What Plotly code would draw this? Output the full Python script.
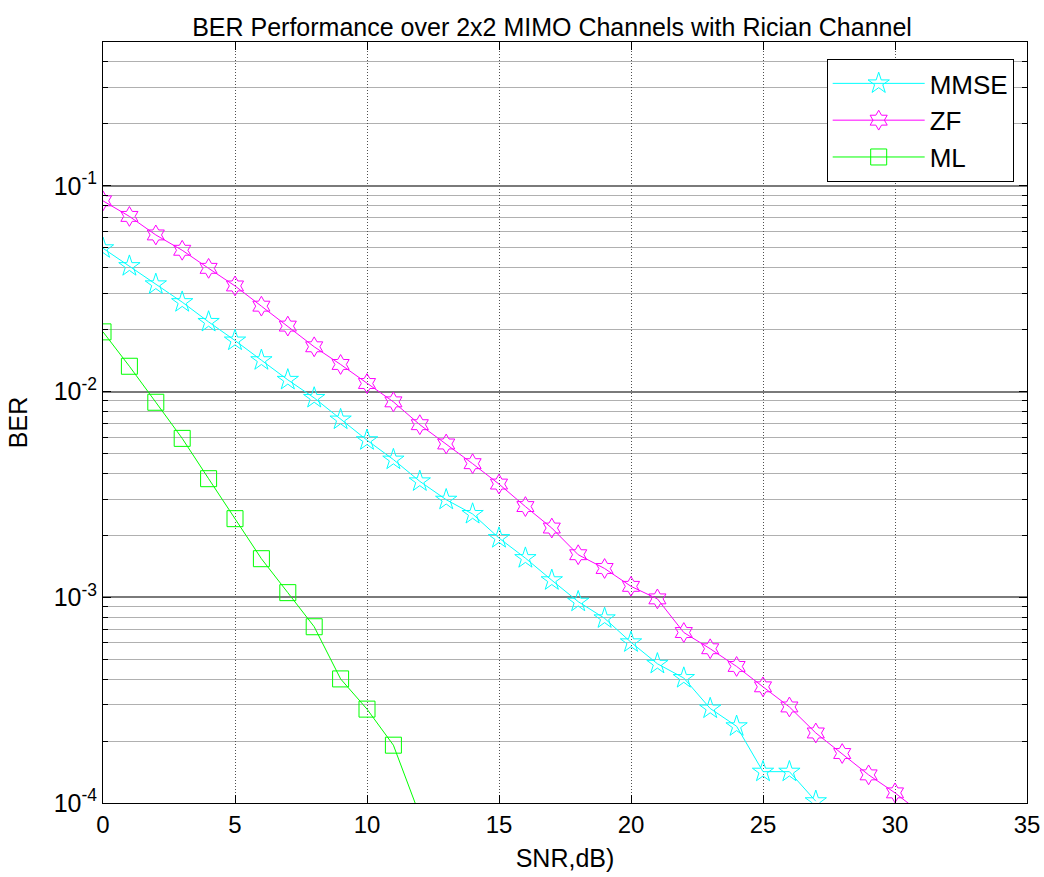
import math
import plotly.graph_objects as go

# ---- data ----
snr_mmse = list(range(0, 28))
ber_mmse = [0.0497, 0.0407, 0.0332, 0.0272, 0.0218, 0.0177, 0.0142, 0.0114,
            0.00931, 0.00731, 0.00580, 0.00467, 0.00366, 0.00298, 0.00254,
            0.00194, 0.00155, 0.00121, 0.000952, 0.000790, 0.000604,
            0.000475, 0.000405, 0.000288, 0.000236, 0.000142, 0.000142,
            0.000102]

snr_zf = list(range(0, 32))
ber_zf = [0.0845, 0.0710, 0.0577, 0.0486, 0.0397, 0.0326, 0.0260, 0.0208,
          0.0165, 0.01354, 0.01094, 0.00891, 0.00690, 0.00556, 0.00446,
          0.00355, 0.00276, 0.00217, 0.00161, 0.00138, 0.00113, 0.000982,
          0.000674, 0.000562, 0.000461, 0.000367, 0.000293, 0.000219,
          0.000174, 0.000137, 0.000112, 0.000089]

snr_ml = list(range(0, 13))
ber_ml = [0.0195, 0.01327, 0.00887, 0.00592, 0.00377, 0.00241, 0.00154,
          0.001053, 0.000719, 0.000401, 0.000286, 0.000191, 0.000087]

x_ticks = [0, 5, 10, 15, 20, 25, 30, 35]
y_major = [1e-4, 1e-3, 1e-2, 1e-1]
y_major_text = ["10<sup>-4</sup>", "10<sup>-3</sup>", "10<sup>-2</sup>", "10<sup>-1</sup>"]
y_minor = [m * d for d in (1e-4, 1e-3, 1e-2, 1e-1) for m in range(2, 10)
           if m * d <= 0.5]

FONT = "Liberation Sans, Arial, Helvetica, sans-serif"
FS = 24

fig = go.Figure()
fig.add_trace(go.Scatter(
    x=snr_mmse, y=ber_mmse, name="MMSE", mode="lines+markers",
    line=dict(color="#00FFFF", width=1),
    marker=dict(symbol="star-open", size=16, color="#00FFFF",
                line=dict(width=1, color="#00FFFF"))))
fig.add_trace(go.Scatter(
    x=snr_zf, y=ber_zf, name="ZF", mode="lines+markers",
    line=dict(color="#FF00FF", width=1),
    marker=dict(symbol="hexagram-open", size=15, color="#FF00FF",
                line=dict(width=1, color="#FF00FF"))))
fig.add_trace(go.Scatter(
    x=snr_ml, y=ber_ml, name="ML", mode="lines+markers",
    line=dict(color="#00FF00", width=1),
    marker=dict(symbol="square-open", size=16, color="#00FF00",
                line=dict(width=1, color="#00FF00"))))

fig.update_layout(
    width=1044, height=877,
    margin=dict(l=103, r=17, t=42, b=74, autoexpand=False),
    paper_bgcolor="white", plot_bgcolor="white",
    font=dict(family=FONT, size=FS, color="black"),
    title=dict(text="BER Performance over 2x2 MIMO Channels with Rician Channel",
               x=0.486, xref="paper", xanchor="center",
               y=1 - 27 / 877, yref="container", yanchor="middle",
               font=dict(family=FONT, size=25, color="black")),
    showlegend=True,
    legend=dict(x=0.9856, y=0.9777, xanchor="right", yanchor="top",
                bgcolor="white", bordercolor="black", borderwidth=1,
                font=dict(family=FONT, size=26, color="black"),
                itemwidth=92),
)

fig.update_xaxes(
    range=[0, 35], tickmode="array", tickvals=x_ticks,
    ticks="inside", ticklen=8, tickcolor="black", tickwidth=1,
    tickfont=dict(size=24),
    showline=True, linecolor="black", linewidth=1, mirror="allticks",
    showgrid=True, gridcolor="#505050", griddash="1px,2px", gridwidth=1,
    zeroline=False,
    title=dict(text="SNR,dB)", standoff=12, font=dict(size=25)),
)
fig.update_yaxes(
    type="log", range=[-4, math.log10(0.5)],
    tickmode="array", tickvals=y_major, ticktext=y_major_text,
    ticks="inside", ticklen=8, tickcolor="black", tickwidth=1,
    tickfont=dict(size=25),
    showline=True, linecolor="black", linewidth=1, mirror="allticks",
    showgrid=True, gridcolor="#7a7a7a", gridwidth=1.5,
    zeroline=False,
    minor=dict(tickmode="array", tickvals=y_minor, ticks="inside", ticklen=5,
               tickcolor="black", showgrid=True, gridcolor="#b0b0b0",
               gridwidth=1),
    title=dict(text="BER", standoff=18, font=dict(size=25)),
)

fig.write_html("out.html")
